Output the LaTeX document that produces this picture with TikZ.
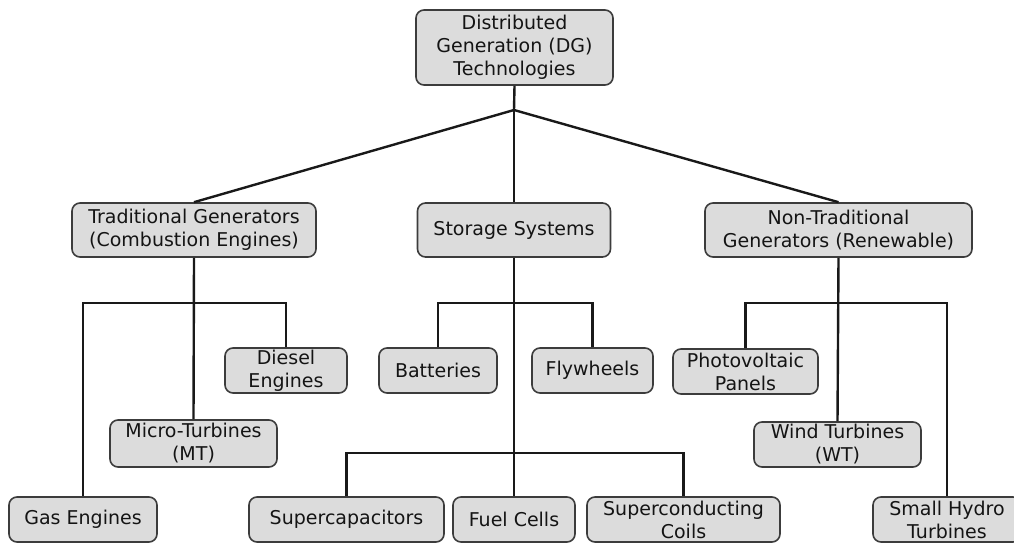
\documentclass[tikz,border=0pt]{standalone}
\usepackage{fontspec}
\setmainfont{DejaVu Sans}
\definecolor{boxfill}{RGB}{220,220,220}
\definecolor{boxline}{RGB}{60,60,60}
\definecolor{txt}{RGB}{20,20,20}
\begin{document}
\begin{tikzpicture}[x=1pt,y=-1pt,
  bx/.style={draw=boxline,line width=1.6pt,fill=boxfill,rounded corners=8pt,
    inner sep=0pt,align=center,text=txt,
    font=\fontsize{19}{23}\selectfont},
  conn/.style={draw=black!90,line width=2.4pt}]
\useasboundingbox (0,0) rectangle (1014,543);
% nodes
\node[bx,minimum width=197pt,minimum height=75pt] (top) at (514.5,47.5) {Distributed\\Generation (DG)\\Technologies};
\node[bx,minimum width=244pt,minimum height=54pt] (trad) at (194,230) {Traditional Generators\\(Combustion Engines)};
\node[bx,minimum width=193pt,minimum height=54pt] (stor) at (514,230) {Storage Systems};
\node[bx,minimum width=267pt,minimum height=54pt] (nont) at (838.5,230) {Non-Traditional\\Generators (Renewable)};
\node[bx,minimum width=122pt,minimum height=45pt] (diesel) at (286,370.5) {Diesel\\Engines};
\node[bx,minimum width=167pt,minimum height=47pt] (micro) at (193.5,443.5) {Micro-Turbines\\(MT)};
\node[bx,minimum width=148pt,minimum height=45pt] (gas) at (83,519.5) {Gas Engines};
\node[bx,minimum width=118pt,minimum height=45pt] (batt) at (438,370.5) {Batteries};
\node[bx,minimum width=121pt,minimum height=45pt] (fly) at (592.5,370.5) {Flywheels};
\node[bx,minimum width=195pt,minimum height=45pt] (supcap) at (346.5,519.5) {Supercapacitors};
\node[bx,minimum width=122pt,minimum height=45pt] (fuel) at (514,519.5) {Fuel Cells};
\node[bx,minimum width=193pt,minimum height=45pt] (supcond) at (683.5,519.5) {Superconducting\\Coils};
\node[bx,minimum width=145pt,minimum height=45pt] (pv) at (745.5,371.5) {Photovoltaic\\Panels};
\node[bx,minimum width=167pt,minimum height=45pt] (wind) at (837.5,444.5) {Wind Turbines\\(WT)};
\node[bx,minimum width=148pt,minimum height=45pt] (hydro) at (947,519.5) {Small Hydro\\Turbines};
% junctions
\coordinate (j0) at (514,110);
\coordinate (jt) at (194,303);
\coordinate (js1) at (514,303);
\coordinate (js2) at (514,453);
\coordinate (jn) at (838,303);
% connectors
\draw[conn] (top.south) -- (j0);
\draw[conn] (j0) -- (trad.north);
\draw[conn] (j0) -- (stor.north);
\draw[conn] (j0) -- (nont.north);
\draw[conn] (trad.south) -- (micro.north);
\draw[conn] (gas.north) |- (jt) -| (diesel.north);
\draw[conn] (stor.south) -- (fuel.north);
\draw[conn] (batt.north) |- (js1) -| (fly.north);
\draw[conn] (supcap.north) |- (js2) -| (supcond.north);
\draw[conn] (nont.south) -- (wind.north);
\draw[conn] (pv.north) |- (jn) -| (hydro.north);
\end{tikzpicture}
\end{document}
